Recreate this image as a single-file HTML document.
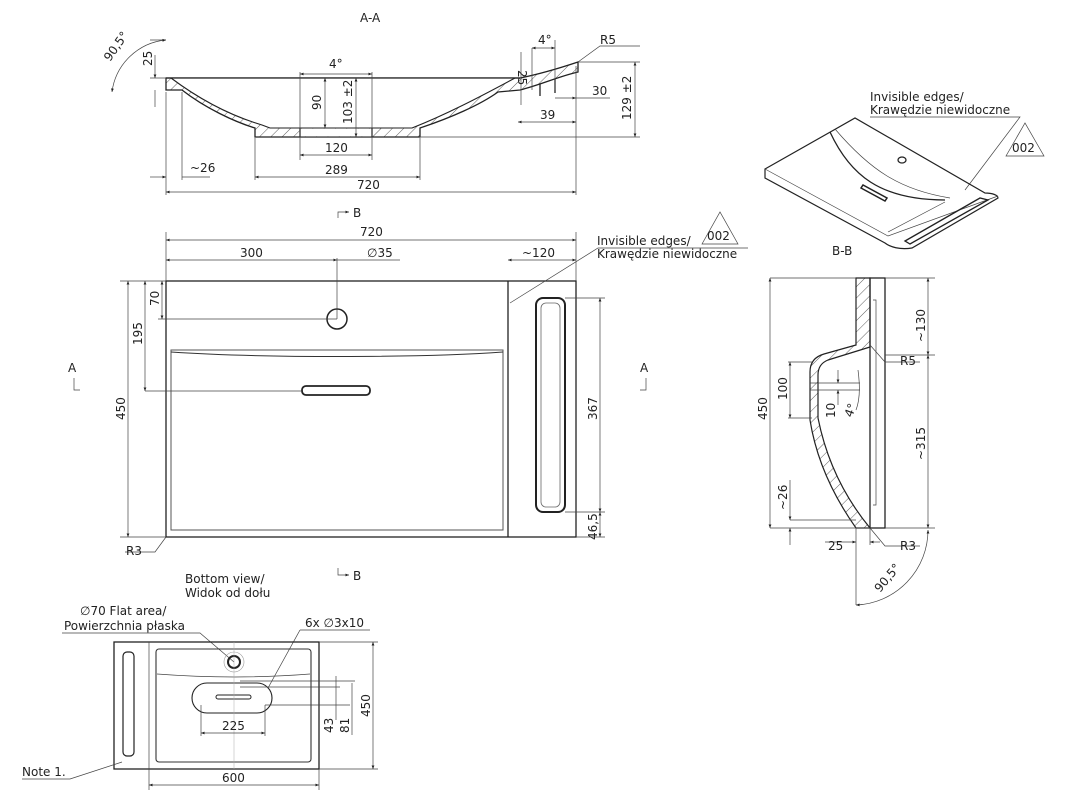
<!DOCTYPE html>
<html><head><meta charset="utf-8"><style>
body{margin:0;background:#fff}
svg{display:block;font-family:"DejaVu Sans","Liberation Sans",sans-serif;}
text{font-size:12px;fill:#222}
.l{stroke:#222;stroke-width:1.3;fill:none}
.t{stroke:#444;stroke-width:0.7;fill:none}
</style></head><body>
<svg width="1077" height="795" viewBox="0 0 1077 795" xmlns="http://www.w3.org/2000/svg">
<defs>
<marker id="a" viewBox="0 0 10 10" refX="10" refY="5" markerWidth="7" markerHeight="5" orient="auto-start-reverse"><path d="M0,1 L10,5 L0,9z" fill="#222"/></marker>
<pattern id="hp" width="8" height="8" patternUnits="userSpaceOnUse" patternTransform="rotate(45)"><line x1="0" y1="0" x2="0" y2="8" stroke="#333" stroke-width="0.8"/></pattern>
</defs>

<!-- ===== A-A section ===== -->
<text x="360" y="22">A-A</text>
<path d="M166,78 L166,90 L182,90 C205,108 235,122 255,128 L255,137 L420,137 L420,128 C450,118 480,105 498,92 L520,90 C540,85 560,76 578,72 L578,62 C560,68 540,74 520,78 L166,78z" fill="url(#hp)" stroke="#222" stroke-width="1.3"/>
<path d="M171,78 C195,96 225,114 262,125 L270,128 L412,128 C445,115 478,98 515,78z" fill="#fff" stroke="none"/>
<path d="M171,78 C195,96 225,114 262,125 L270,128 L412,128 C445,115 478,98 515,78" fill="none" stroke="#222" stroke-width="1.1"/>
<line x1="166" y1="78" x2="520" y2="78" class="l"/>
<rect x="300.5" y="128.7" width="71" height="7.6" fill="#fff"/>
<path d="M300,128 L300,137 M372,128 L372,137 M540,84 L540,96 M555,79 L555,93" class="l"/>
<line x1="420" y1="137" x2="640" y2="137" class="t"/>
<!-- dims -->
<path d="M166,92 L166,195 M576,66 L576,195 M182,92 L182,180 M255,138 L255,180 M420,138 L420,180 M300,72 L300,160 M372,72 L372,160" class="t"/>
<line x1="166" y1="192" x2="576" y2="192" class="t" marker-start="url(#a)" marker-end="url(#a)"/><text x="357" y="189">720</text>
<line x1="255" y1="177" x2="420" y2="177" class="t" marker-start="url(#a)" marker-end="url(#a)"/><text x="325" y="174">289</text>
<line x1="300" y1="155" x2="372" y2="155" class="t" marker-start="url(#a)" marker-end="url(#a)"/><text x="325" y="152">120</text>
<line x1="150" y1="177" x2="166" y2="177" class="t" marker-end="url(#a)"/><line x1="182" y1="177" x2="210" y2="177" class="t"/><text x="190" y="172">~26</text>
<line x1="300" y1="74" x2="372" y2="74" class="t" marker-start="url(#a)" marker-end="url(#a)"/><text x="329" y="68">4°</text>
<line x1="325" y1="78" x2="325" y2="128" class="t" marker-start="url(#a)" marker-end="url(#a)"/><text transform="translate(321,110) rotate(-90)">90</text>
<line x1="356" y1="78" x2="356" y2="137" class="t" marker-start="url(#a)" marker-end="url(#a)"/><text transform="translate(352,124) rotate(-90)">103 ±2</text>
<path d="M150,78 L166,78 M150,40 L166,40" class="t"/>
<line x1="155" y1="55" x2="155" y2="78" class="t" marker-end="url(#a)"/><line x1="155" y1="90" x2="155" y2="107" class="t"/><text transform="translate(152,66) rotate(-90)">25</text>
<path d="M166,40 A60,60 0 0 0 112,92" class="t" marker-start="url(#a)" marker-end="url(#a)"/><text transform="translate(110,62) rotate(-55)">90,5°</text>
<path d="M578,62 L600,46 L640,46" class="t"/><text x="600" y="44">R5</text>
<line x1="555" y1="40" x2="555" y2="90" class="t"/><line x1="532" y1="48" x2="532" y2="90" class="t"/>
<line x1="532" y1="48" x2="555" y2="48" class="t" marker-start="url(#a)" marker-end="url(#a)"/><text x="538" y="44">4°</text>
<line x1="521" y1="52" x2="521" y2="105" class="t"/><text transform="translate(518,70) rotate(90)">25</text>
<line x1="518" y1="122" x2="576" y2="122" class="t" marker-start="url(#a)" marker-end="url(#a)"/><text x="540" y="119">39</text>
<line x1="555" y1="98" x2="576" y2="98" class="t" marker-end="url(#a)"/><line x1="576" y1="98" x2="610" y2="98" class="t"/><text x="592" y="95">30</text>
<path d="M578,62 L640,62" class="t"/>
<line x1="635" y1="62" x2="635" y2="137" class="t" marker-start="url(#a)" marker-end="url(#a)"/><text transform="translate(631,120) rotate(-90)">129 ±2</text>

<!-- ===== Plan view ===== -->
<path d="M338,218 L338,212 L349,212" class="t" marker-end="url(#a)"/><text x="353" y="217">B</text>
<path d="M338,568 L338,575 L349,575" class="t" marker-end="url(#a)"/><text x="353" y="580">B</text>
<text x="68" y="372">A</text><path d="M74,378 L74,390 L80,390" class="t"/>
<text x="640" y="372">A</text><path d="M646,378 L646,390 L640,390" class="t"/>
<rect x="166" y="281" width="410" height="256" class="l"/>
<line x1="508" y1="281" x2="508" y2="537" class="l"/>
<rect x="171" y="350" width="332" height="180" fill="none" stroke="#555" stroke-width="1"/>
<path d="M171,352 C260,358 420,358 503,352" fill="none" stroke="#333" stroke-width="1"/>
<rect x="536" y="298" width="29" height="214" rx="7" fill="none" stroke="#222" stroke-width="2"/>
<rect x="541" y="303" width="19" height="204" rx="5" fill="none" stroke="#666" stroke-width="0.8"/>
<circle cx="337" cy="319" r="10" fill="none" stroke="#222" stroke-width="1.5"/>
<rect x="302" y="386" width="68" height="9" rx="4" fill="none" stroke="#222" stroke-width="1.8"/>
<line x1="158" y1="319" x2="337" y2="319" class="t"/>
<line x1="145" y1="391" x2="302" y2="391" class="t"/>
<path d="M166,232 L166,281 M576,232 L576,281 M337,258 L337,319" class="t"/>
<line x1="166" y1="240" x2="576" y2="240" class="t" marker-start="url(#a)" marker-end="url(#a)"/><text x="360" y="236">720</text>
<line x1="166" y1="260" x2="337" y2="260" class="t" marker-start="url(#a)" marker-end="url(#a)"/><text x="240" y="257">300</text>
<line x1="337" y1="260" x2="400" y2="260" class="t"/><text x="367" y="257">∅35</text>
<line x1="508" y1="260" x2="576" y2="260" class="t" marker-start="url(#a)" marker-end="url(#a)"/><text x="522" y="257">~120</text>
<path d="M120,281 L166,281 M120,537 L166,537" class="t"/>
<line x1="128" y1="281" x2="128" y2="537" class="t" marker-start="url(#a)" marker-end="url(#a)"/><text transform="translate(125,420) rotate(-90)">450</text>
<line x1="145" y1="281" x2="145" y2="391" class="t" marker-start="url(#a)" marker-end="url(#a)"/><text transform="translate(142,345) rotate(-90)">195</text>
<line x1="162" y1="281" x2="162" y2="319" class="t" marker-start="url(#a)" marker-end="url(#a)"/><text transform="translate(159,306) rotate(-90)">70</text>
<path d="M565,298 L605,298 M565,512 L605,512 M576,537 L605,537" class="t"/>
<line x1="600" y1="298" x2="600" y2="512" class="t" marker-start="url(#a)" marker-end="url(#a)"/><text transform="translate(597,420) rotate(-90)">367</text>
<line x1="600" y1="512" x2="600" y2="537" class="t" marker-start="url(#a)" marker-end="url(#a)"/><text transform="translate(597,540) rotate(-90)">46,5</text>
<path d="M166,537 L155,552 L125,552" class="t"/><text x="126" y="555">R3</text>
<path d="M510,303 L598,248 L748,248" class="t"/>
<text x="597" y="245">Invisible edges/</text><text x="597" y="258">Krawędzie niewidoczne</text>
<path d="M702,244 L720,212 L738,244z" class="t"/><text x="707" y="240">002</text>

<!-- ===== Bottom view ===== -->
<text x="185" y="583">Bottom view/</text><text x="185" y="597">Widok od dołu</text>
<text x="80" y="615">∅70 Flat area/</text><text x="64" y="630">Powierzchnia płaska</text>
<path d="M62,633 L200,633 L234,662" class="t"/>
<text x="305" y="627">6x ∅3x10</text><path d="M300,630 L370,630 M300,630 L268,688" class="t"/>
<rect x="114" y="642" width="205" height="127" class="l"/>
<line x1="149" y1="642" x2="149" y2="769" class="t"/>
<rect x="156" y="649" width="155" height="113" rx="3" fill="none" stroke="#333" stroke-width="1.1"/>
<path d="M157,674 C210,678 260,678 310,674" class="t"/>
<rect x="123" y="652" width="11" height="104" rx="4" fill="none" stroke="#222" stroke-width="1.2"/>
<rect x="192" y="683" width="80" height="30" rx="15" fill="none" stroke="#222" stroke-width="1.1"/>
<rect x="216" y="695" width="35" height="4" rx="2" fill="none" stroke="#222" stroke-width="1"/>
<circle cx="234" cy="662" r="6" fill="none" stroke="#222" stroke-width="2"/><circle cx="234" cy="662" r="10" fill="none" stroke="#999" stroke-width="0.6"/>
<line x1="234" y1="642" x2="234" y2="769" stroke="#aaa" stroke-width="0.5"/>
<path d="M240,687 L340,687 M265,705 L350,705 M240,681 L355,681" class="t"/>
<line x1="336" y1="676" x2="336" y2="720" class="t"/><text transform="translate(333,733) rotate(-90)">43</text>
<line x1="352" y1="683" x2="352" y2="735" class="t"/><text transform="translate(349,733) rotate(-90)">81</text>
<path d="M319,642 L378,642 M319,769 L378,769" class="t"/>
<line x1="373" y1="642" x2="373" y2="769" class="t" marker-start="url(#a)" marker-end="url(#a)"/><text transform="translate(370,717) rotate(-90)">450</text>
<path d="M201,705 L201,736 M265,705 L265,736 M149,769 L149,790 M319,769 L319,790" class="t"/>
<line x1="201" y1="733" x2="265" y2="733" class="t" marker-start="url(#a)" marker-end="url(#a)"/><text x="222" y="730">225</text>
<line x1="149" y1="785" x2="319" y2="785" class="t" marker-start="url(#a)" marker-end="url(#a)"/><text x="222" y="782">600</text>
<text x="22" y="776">Note 1.</text><path d="M22,779 L70,779 L122,762" class="t"/>

<!-- ===== 3D view ===== -->
<text x="870" y="101">Invisible edges/</text><text x="870" y="114">Krawędzie niewidoczne</text>
<path d="M870,117 L1020,117 L965,190" class="t"/>
<path d="M1006,156 L1025,123 L1044,156z" class="t"/><text x="1012" y="152">002</text>
<path d="M765,169 L855,118 L985,193 C992,193 998,195 998,198 L912,248 C900,250 890,247 885,243 L765,178z" fill="none" stroke="#222" stroke-width="1.2"/>
<path d="M765,169 L888,236 L998,196" class="t"/>
<path d="M830,132 C850,175 880,200 945,200" class="l"/>
<path d="M835,129 C870,170 900,190 950,198" class="t"/>
<path d="M945,202 L888,232" class="t"/>
<ellipse cx="902" cy="160" rx="4" ry="3" class="l"/>
<path d="M861,188 L885,201 L887,198 L863,185z" fill="none" stroke="#222" stroke-width="1.5"/>
<path d="M905,241 L980,198 L988,200 L910,244z" fill="none" stroke="#222" stroke-width="1.3"/>
<text x="832" y="255">B-B</text>

<!-- ===== B-B section ===== -->
<rect x="870" y="278" width="15" height="250" class="l"/>
<path d="M856,278 L870,278 L870,347 L828,360 Q818,364 818,375 L818,418 C826,458 842,494 870,528 L856,528 C832,494 816,458 810,420 L810,372 Q810,358 824,354 L856,345z" fill="url(#hp)" stroke="#222" stroke-width="1.2"/>
<path d="M873,300 L876,300 L876,505 L873,505" class="t"/>
<path d="M770,278 L856,278 M770,528 L870,528 M885,278 L935,278 M885,528 L935,528 M885,355 L935,355" class="t"/>
<line x1="770" y1="278" x2="770" y2="528" class="t" marker-start="url(#a)" marker-end="url(#a)"/><text transform="translate(767,420) rotate(-90)">450</text>
<line x1="928" y1="278" x2="928" y2="355" class="t" marker-start="url(#a)" marker-end="url(#a)"/><text transform="translate(925,342) rotate(-90)">~130</text>
<line x1="928" y1="355" x2="928" y2="528" class="t" marker-start="url(#a)" marker-end="url(#a)"/><text transform="translate(925,460) rotate(-90)">~315</text>
<path d="M788,362 L812,362 M788,418 L812,418" class="t"/>
<line x1="790" y1="362" x2="790" y2="418" class="t" marker-start="url(#a)" marker-end="url(#a)"/><text transform="translate(787,400) rotate(-90)">100</text>
<path d="M810,383 L860,383 M810,390 L860,390" class="t"/>
<line x1="838" y1="370" x2="838" y2="383" class="t" marker-end="url(#a)"/><line x1="838" y1="390" x2="838" y2="405" class="t" marker-start="url(#a)"/><text transform="translate(835,418) rotate(-90)">10</text>
<path d="M858,370 C860,385 860,400 856,410" class="t"/><text transform="translate(852,418) rotate(-70)">4°</text>
<path d="M870,345 L885,362 L920,362" class="t"/><text x="900" y="365">R5</text>
<path d="M790,520 L856,520" class="t"/><line x1="790" y1="480" x2="790" y2="520" class="t" marker-end="url(#a)"/><line x1="790" y1="528" x2="790" y2="545" class="t" marker-start="url(#a)"/><text transform="translate(787,510) rotate(-90)">~26</text>
<path d="M856,528 L856,605 M870,528 L870,545" class="t"/>
<line x1="825" y1="542" x2="856" y2="542" class="t" marker-end="url(#a)"/><line x1="870" y1="542" x2="880" y2="542" class="t" marker-start="url(#a)"/><text x="828" y="550">25</text>
<path d="M870,528 L885,546 L920,546" class="t"/><text x="900" y="550">R3</text>
<path d="M928,530 A75,75 0 0 1 856,605" class="t" marker-start="url(#a)" marker-end="url(#a)"/><text transform="translate(880,593) rotate(-50)">90,5°</text>
</svg>
</body></html>
